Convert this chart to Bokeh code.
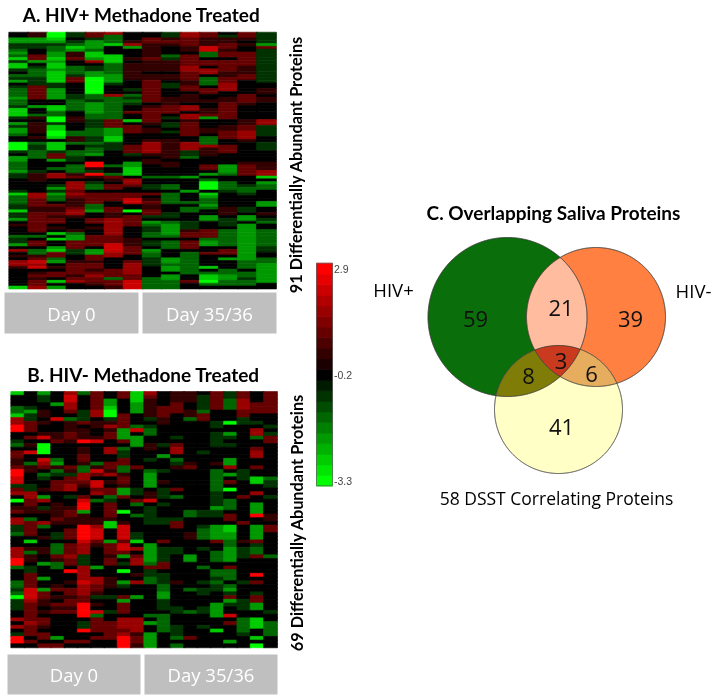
import math
from bokeh.plotting import figure
from bokeh.models import Range1d, ColumnDataSource, LinearColorMapper
from bokeh.core.properties import value
from bokeh.transform import transform
from bokeh.embed import file_html
from bokeh.resources import INLINE

# Heatmap cells, one string per column, top row first.
# Upper case = green (A brightest), "." = black, lower case = red (a brightest).
panel_a_cols = [
 ".. C C E E D C D B E B B E . D E C . E D D D C D D E B B B E . C E C C D . . A A A E . C C D D D C E E . . . . E B D D D E E B E E C . e . . . D E E C . c . e . c c e . . . . . . B",
 "e e C C E E . . d d C . E D D D E E E d d d d d . . C . . D e . e e e e . e . D E E D D D . . . . E e e e . . . . c c d d d e e d d d d d d d . D . d d . D D e d b c b . e d e d d c",
 "A A B C E D D C C B C B B C B B B B E E C C C C . . B B D D A A E B B A A B . B B B E d d C . . D . c c . . E C E C D D . d e e d e d d . e . B . B . . C B d d D C . e . d d . B . C",
 "E E . E D B C e e d . . D D D E d d . . . . E E D D D D . . e e . . . D D e e D . . D D E E . D D D e d . c c c d c d e e e d c c e . . . . e D C C d d d E E . . e d d d d e d c . .",
 "d d E C C C D B B C c . E E C C A A A A A A D D E C C C C D D E E E D D D E E D E D D C . . a a e E a e . E D D . d d d d D D C . . d d . e . . d d d d . C C d d e d d e d c d d e .",
 "c D D D B . . . B B B D D D D C C C E . . . c D D D D D D D D d d d C C C B B E E E . . . . . D . . D d e . d d . d d d . . d d e e c c c c c c d d d b b b c c . . . . d d d D d d e",
 ". . . e c C . . . e . e e e e e e . . . E . D E D E . . d . . B . d d d . . . . d d d E . . C C B B B . c c d . . d d b b . . A . d d d d . . . . e e e d d d . . d c c c c d d b b b",
 ". . d d e e e e e d e e e e . e e d d d d d d d d . e d d d d d e . e e . . e c c c c e . e e . . . . D . . E E . d . e d e e d d E . C D E E D D . E E . C D D E E E . . . . D D D D",
 "E E e d e . . . D E e e e e . e e . E E . . . e e e d d d . E . E E . E . . e e e e e e e . e e . . . D . . D D . D D D D . . . E E . D C C C C D . D D D . . . C C D C C . C C D D D",
 "c c d d d e e . d d d d c c d d d e e d d . e e e . c c . c c e d d d d d . . c c c E E D . . . . . . C . . . . C . . . D . D D . . . E E E e d d . d d d . D D D D D D D D . . d . .",
 "d d e e e b b D D . d d . c c . D D D . d d . . e . . e e d C . . . e e . D D D c e e e . . . d d . C . D A A A . B C D D C D . . C C . . . d d d D C C . . d . . . . B . D B B A D .",
 ". E e e d d e d d . d d d d e e d d c c c . . e e d d d d d d . . e e d d d . . d d d . . . . C C C D . . D D D E . . . . . e e e . E E E . D D D D D D . d d . C . . . D D C C D D .",
 "d d e . e . . d d d d d e e e d d . . . . . d d d e . . . . . e e d d c c c e . . . . . . . e d d d d . . . E D D E . . . . E E . C C . C C C C C C C C C C C C C D D D . D D E D D .",
 "E E E E C d E E E E E E E E E E E E . . e e . e e . . . . . . c c E E E E . . E E E . . . . e e e c c B . C D D . . . . C C . . e . E D . . D D D D D D E E . . D D C C C C C C C . .",
]
panel_b_cols = [
 "B . . . D D B c c a a . . E D . d d e e d a a b b E d c . A . e d . c c E E D . . . c c c a a D . . . D D E D A E E E . . c . c . E a a .",
 ". . . . E C E E d d d . d . e . b . . D e e . . . E E c c d d e e . D d d d d . B . e D e e . E E d d d d b b b c d d d d d c d d d . d .",
 "C E E . . e e . e . . e b . A A A . b c d . D E . . e . C c . E e . . c D . . e . . e e . . C . . . C . . C d d e e . e . d d e . d d . d",
 ". . . C . . . b . . . e e d . . . . D C e D E . d d d . . . e e e e d e . . E E . D D D d e D D . . . . e d . e . d e d . . . . . . C . d",
 "c b b c c d . D e e e d d e . . . . . . d e E d d c c . E . . e d d e e . d d d . d d d c d d . a . . e . d d e d d e d . . . . . . . d .",
 "D . . . . E E E d . e e e a . e e d d e D D c c d e . . d b a a C e e e a a a a b c c c E E E c c c c b c c c d d a a a a . E E a . . d .",
 "d d d d d c c . e e . . e b . . . . . D e b d . b b d c . D . . . . e e c b b b d e . . . . . C . . c c d d e E . e . b D d d d d . d . .",
 ". . C C B A A E e c e d d . . c c . . d d e c . e . d d D E d d d d e B B . . . C d d d e d d . . . e e e . . E . . . E . . d d d d d . .",
 "d d . . . . d d d d C C C d . D E E d d D D e d d e C C d . . . A . . e b b b b d b b d C . E . A . . C E . . d C d d d . c c c d c a a a",
 "B B B C C C . . . D b . C C C . . . . . d . . . . . E E . d D . . D . . . . E E B . c . d c c . . e . c . . . C . . . . . c c c c e d d e",
 "c d e e e e e E . E D D . . e e . . E . . D C C C C . e e b . E E E E E . . . . . C C C C C D d E E D D . . . . . . . . D . C . . C C C C",
 ". . . . d d d e e . . . . . E . . C . . . E . . e . E E E . E . . . E E . . . . d . E E E E d d . E E E D D C C E E E . D D D D D . . . .",
 "e e e d d d . . . . . . E . d c c . D E e . . . . . d . D . . . . . E d d . . . . . E E . . . . . . . e . . . . . . E E . . . E E E D . D",
 "e e e . . e e D . . . . . . . . . . . e d . . . . . . . . . . . D D . . . . e e . . . . C C . . . . . . . D . . . . . D . . . . . . d . .",
 ". E E E E D d d . . . . . . . . E . . . . . . . . . . . . . . . E E . . E D D D . . E . . . . D . . . E . E E . . . E E . . . E . . . . .",
 "d d d d d . . . E E . E E E E . . . . e . D D D D D D E E E E C E E . . C C C C d . . D D D . . D D E D E E . . . C C C C . . . B . . . .",
 "E E D D D . . . A . . C E . E . . . C C c . C . d . A . . D D D . d d . B B C C D D C C C C . d D D D . D C E d C E . . b . d . . . . C .",
 "d d c c c d d E E . . . . . . . . . . . . E E E . . . . d . . . . . . d . . . . e . E E E . . . . . . E . . . . E E E . . D D D D E . . .",
 ". . . d d d . . E . c c D . . d c c . . d . . B B . . c . . C C C a . . C C C C d E D D d . . . . a . d . . E d d C C . . B B B . . B . A",
 "d d d d d d . . . E . E d d . . . . . . . . . D E E . . E . . . . e e . d d . . . . . . D . . . . . . . . . . . . . . E . . D D D D . . .",
]
level_values = {"A": -3.3, "B": -2.7, "C": -2.1, "D": -1.5, "E": -0.8, ".": -0.2,
                "e": 0.4, "d": 1.0, "c": 1.6, "b": 2.2, "a": 2.9}
scale_labels = ["2.9", "-0.2", "-3.3"]
scale_values = [2.9, -0.2, -3.3]
day_labels = ["Day 0", "Day 35/36"]
venn_counts = [59, 21, 39, 3, 8, 6, 41]

palette = []
for i in range(21):
    if i < 10:
        palette.append("#00%02x00" % round(255 * (10 - i) / 10))
    else:
        palette.append("#%02x0000" % round(255 * (i - 10) / 10))
mapper = LinearColorMapper(palette=palette, low=-3.3, high=2.9)

p = figure(width=716, height=700, x_range=Range1d(0, 716), y_range=Range1d(700, 0),
           x_axis_type=None, y_axis_type=None, toolbar_location=None,
           output_backend="svg", min_border=0, outline_line_color=None,
           background_fill_color="white", border_fill_color="white")
p.grid.visible = False
p.styles = {"position": "fixed", "left": "0px", "top": "0px", "width": "716px", "height": "700px"}


def heat(cols, nrows, x0, x1, y0, y1):
    cw = (x1 - x0) / len(cols)
    rh = (y1 - y0) / nrows
    xs, ys, vs = [], [], []
    for c, col in enumerate(cols):
        cells = col.replace(" ", "").ljust(nrows, ".")[:nrows]
        for r, ch in enumerate(cells):
            xs.append(x0 + (c + .5) * cw)
            ys.append(y0 + (r + .5) * rh)
            vs.append(level_values[ch])
    src = ColumnDataSource(dict(x=xs, y=ys, v=vs))
    p.rect("x", "y", width=cw, height=rh, source=src, dilate=True,
           fill_color=transform("v", mapper), line_color=transform("v", mapper),
           line_width=0.6)


heat(panel_a_cols, 91, 8.3, 275, 31.7, 288.3)
heat(panel_b_cols, 69, 10.3, 276.3, 391, 647)


def label(x, y, txt, size, color="black", font="Lato", style="normal", angle=0):
    p.text([x], [y], text=[txt], text_font=value(font), text_font_size=f"{size}px",
           text_font_style=style, text_color=color, text_align="center",
           text_baseline="middle", angle=angle)


label(141, 13.5, "A. HIV+ Methadone Treated", 19, style="bold")
label(143, 374, "B. HIV- Methadone Treated", 19, style="bold")
label(553, 212, "C. Overlapping Saliva Proteins", 19, style="bold")
label(295, 162, "91 Differentially Abundant  Proteins", 16.3, style="bold", angle=math.pi / 2)
label(296, 520, "69 Differentially Abundant  Proteins", 16.3, style="bold", angle=math.pi / 2)

# Day strips
for (l, r, t, b), txt in zip([(4, 138, 292, 333), (142, 276, 292, 333),
                              (7, 140, 654, 694), (144, 277, 654, 694)],
                             day_labels * 2):
    p.quad(left=[l], right=[r], top=[t], bottom=[b], fill_color="#bfbfbf", line_color=None)
    label((l + r) / 2, (t + b) / 2, txt, 18.5, color="white", font="Open Sans")

# Colour scale
n = 21
levels = [-3.3 + 6.2 * i / (n - 1) for i in range(n)]
sc = ColumnDataSource(dict(x=[324] * n, y=[374 - (v + 0.2) * 106 / 3.1 for v in levels], v=levels))
p.rect("x", "y", width=16, height=10.6, source=sc, dilate=True,
       fill_color=transform("v", mapper), line_color=transform("v", mapper), line_width=0.5)
p.quad(left=[316], right=[332], top=[262.7], bottom=[485.3], fill_color=None,
       line_color="#555555", line_width=0.7)
for v, t in zip(scale_values, scale_labels):
    yy = 374 - (v + 0.2) * 106 / 3.1
    p.text([333.5], [yy], text=[t], text_font=value("Liberation Sans"), text_font_size="10.5px",
           text_color="#444444", text_align="left", text_baseline="middle")

# Venn diagram
C_pos = (507.0, 316.5, 79.5)
C_neg = (595.5, 316.5, 69.5)
C_dsst = (558.0, 409.0, 64.0)


def region(*circles):
    pts = []
    for i, (cx, cy, r) in enumerate(circles):
        for k in range(1440):
            a = k * math.pi / 720
            x, y = cx + r * math.cos(a), cy + r * math.sin(a)
            if all((x - o[0]) ** 2 + (y - o[1]) ** 2 <= o[2] ** 2 + 1e-6
                   for j, o in enumerate(circles) if j != i):
                pts.append((x, y))
    mx = sum(q[0] for q in pts) / len(pts)
    my = sum(q[1] for q in pts) / len(pts)
    pts.sort(key=lambda q: math.atan2(q[1] - my, q[0] - mx))
    return [q[0] for q in pts], [q[1] for q in pts]


for c, col in [(C_pos, "#0a6e0a"), (C_neg, "#ff8040"), (C_dsst, "#ffffc6")]:
    xs, ys = region(c)
    p.patch(xs, ys, fill_color=col, line_color=None)
for cs, col in [((C_pos, C_neg), "#ffbc9e"), ((C_pos, C_dsst), "#7f7d08"),
                ((C_neg, C_dsst), "#e6ad5e"), ((C_pos, C_neg, C_dsst), "#c93a1f")]:
    xs, ys = region(*cs)
    p.patch(xs, ys, fill_color=col, line_color=None)
for c in (C_pos, C_neg, C_dsst):
    xs, ys = region(c)
    p.patch(xs, ys, fill_color=None, line_color="#3a3a3a", line_width=1)

for (x, y), cnt in zip([(475, 318), (560.5, 307), (630, 318), (560.5, 360),
                        (528, 375), (591, 373), (561, 426)], venn_counts):
    label(x, y, str(cnt), 22, color="#101010", font="Open Sans")
label(393, 289, "HIV+", 18.5, font="Open Sans")
label(693, 290, "HIV-", 18.5, font="Open Sans")
label(556, 497, "58 DSST Correlating Proteins", 17.5, font="Open Sans")

open("out.html", "w").write(file_html(p, INLINE))
